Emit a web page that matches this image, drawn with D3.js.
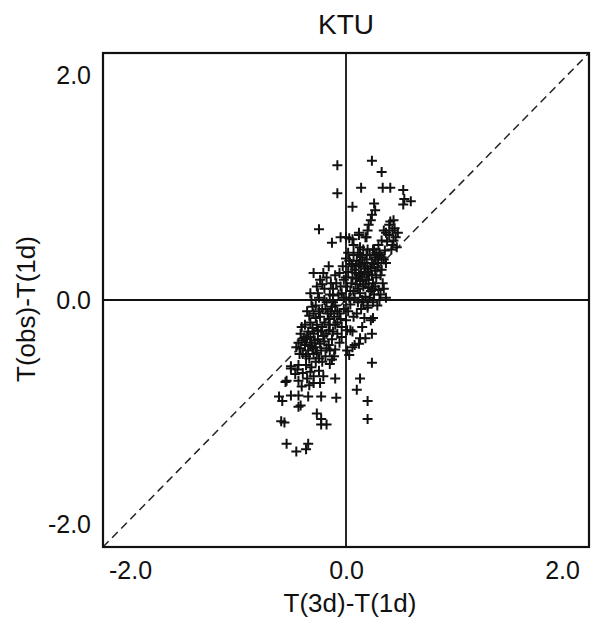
<!DOCTYPE html>
<html>
<head>
<meta charset="utf-8">
<script src="https://cdn.jsdelivr.net/npm/d3@7"></script>
<style>
  body { margin: 0; background: #fff; }
  text { font-family: "Liberation Sans", Arial, Helvetica, sans-serif; fill: #111; }
</style>
</head>
<body>
<script>
// chart size and frame
var width = 591;
var height = 632;
var plotLeft = 103, plotRight = 589, plotTop = 53, plotBottom = 547;

var title = 'KTU';
var xLabel = 'T(3d)-T(1d)';
var yLabel = 'T(obs)-T(1d)';
var xTicks = [-2, 0, 2];
var yTicks = [-2, 0, 2];

// [T(3d)-T(1d), T(obs)-T(1d)]
var upperPoints = [
  [-0.08, 1.20], [0.24, 1.24], [0.33, 1.14], [-0.08, 0.95], [0.14, 1.00],
  [0.34, 1.00], [0.41, 1.00], [0.53, 0.98], [0.54, 0.90], [0.60, 0.88],
  [0.53, 0.85], [0.06, 0.83], [0.26, 0.86], [0.27, 0.80], [0.24, 0.76],
  [0.23, 0.71], [0.21, 0.67], [0.20, 0.62], [-0.25, 0.63], [-0.13, 0.51],
  [-0.05, 0.56], [0.00, 0.56], [0.06, 0.54], [0.12, 0.58], [0.19, 0.56],
  [0.44, 0.71], [0.40, 0.67], [0.43, 0.62], [0.37, 0.60], [0.46, 0.56],
  [0.33, 0.53], [0.43, 0.49], [0.47, 0.47], [0.30, 0.49], [0.26, 0.45],
  [0.12, 0.60], [0.18, 0.56], [0.03, 0.55], [0.07, 0.49], [0.13, 0.47],
  [0.20, 0.45], [0.40, 0.58], [0.45, 0.64], [0.38, 0.52], [0.42, 0.45],
  [0.35, 0.62], [0.48, 0.60], [0.41, 0.70], [0.36, 0.44], [0.31, 0.40],
  [0.44, 0.53]
];

var rightLobe = [
  [0.00, 0.37], [-0.03, 0.30], [0.02, 0.25], [-0.02, 0.18], [0.01, 0.12],
  [-0.04, 0.06], [0.03, 0.02], [0.05, 0.32], [0.08, 0.27], [0.10, 0.35],
  [0.06, 0.20], [0.09, 0.14], [0.12, 0.22], [0.14, 0.30], [0.15, 0.38],
  [0.17, 0.25], [0.19, 0.18], [0.16, 0.12], [0.20, 0.30], [0.22, 0.40],
  [0.24, 0.33], [0.21, 0.23], [0.25, 0.15], [0.27, 0.26], [0.29, 0.36],
  [0.31, 0.42], [0.28, 0.20], [0.30, 0.09], [0.33, 0.27], [0.37, 0.33],
  [0.37, 0.02], [0.34, 0.15], [0.32, 0.05], [0.26, 0.05], [0.23, 0.08],
  [0.18, 0.03], [0.13, 0.06], [0.11, -0.02], [0.07, 0.08], [0.04, -0.04],
  [0.16, 0.45], [0.11, 0.42], [0.07, 0.40], [0.25, 0.45], [0.19, 0.36],
  [0.13, 0.17], [0.21, 0.11], [0.27, 0.38], [0.35, 0.36], [0.29, 0.29],
  [0.24, 0.22], [0.18, 0.28], [0.14, 0.24], [0.10, 0.19], [0.05, 0.15],
  [0.02, 0.42], [-0.06, 0.24], [-0.05, 0.12], [0.20, -0.05], [0.25, -0.02],
  [0.29, -0.05], [0.31, 0.00],
  [0.17, -0.16], [0.25, -0.16], [0.20, -0.07], [0.23, -0.18], [0.24, -0.30],
  [0.18, -0.34], [0.12, -0.39], [0.06, -0.42], [0.01, -0.45], [0.03, -0.49],
  [0.13, -0.34], [0.08, -0.40], [0.04, -0.27], [0.01, -0.27], [0.06, -0.28],
  [-0.04, -0.33], [0.15, -0.24], [0.10, -0.12], [0.14, -0.08], [0.07, -0.15],
  [0.03, 0.35], [0.06, 0.30], [0.09, 0.24], [0.12, 0.32], [0.15, 0.20],
  [0.18, 0.14], [0.21, 0.18], [0.23, 0.28], [0.26, 0.32], [0.28, 0.42],
  [0.30, 0.33], [0.32, 0.22], [0.35, 0.10], [0.33, 0.38], [0.17, 0.33],
  [0.13, 0.40], [0.09, 0.30], [0.04, 0.08], [0.08, 0.02], [0.15, 0.00],
  [0.22, 0.02], [0.27, 0.12], [0.20, 0.25], [0.11, 0.10], [0.00, 0.20],
  [-0.02, 0.02], [0.02, -0.10], [0.16, -0.02], [0.19, 0.40], [0.24, 0.10]
];

var leftLobe = [
  [-0.09, 0.15], [-0.07, 0.05], [-0.10, -0.05], [-0.06, -0.12], [-0.08, -0.20],
  [-0.02, -0.08], [-0.12, 0.10], [0.00, -0.18], [-0.04, -0.24],
  [-0.16, 0.30], [-0.30, 0.24], [-0.24, 0.18], [-0.33, 0.06], [-0.36, -0.10],
  [-0.41, -0.24], [-0.39, -0.34], [-0.20, 0.10], [-0.15, 0.05], [-0.25, 0.02],
  [-0.18, -0.02], [-0.22, -0.08], [-0.13, -0.06], [-0.28, -0.05], [-0.30, -0.12],
  [-0.17, -0.12], [-0.24, -0.15], [-0.11, -0.15], [-0.20, -0.20], [-0.27, -0.22],
  [-0.15, -0.22], [-0.33, -0.20], [-0.23, -0.28], [-0.18, -0.30], [-0.30, -0.30],
  [-0.35, -0.28], [-0.12, -0.28], [-0.26, -0.35], [-0.20, -0.37], [-0.32, -0.38],
  [-0.38, -0.40], [-0.42, -0.43], [-0.35, -0.45], [-0.28, -0.42], [-0.23, -0.45],
  [-0.16, -0.40], [-0.13, -0.35], [-0.44, -0.38], [-0.40, -0.48], [-0.30, -0.48],
  [-0.19, -0.50], [-0.25, -0.52], [-0.34, -0.52], [-0.10, -0.44], [-0.08, -0.30],
  [-0.14, 0.15], [-0.10, 0.22], [-0.21, 0.24], [-0.27, 0.12], [-0.12, -0.02],
  [-0.32, 0.00], [-0.06, -0.38], [-0.20, 0.00], [-0.25, -0.10], [-0.16, -0.17],
  [-0.22, -0.24], [-0.28, -0.16], [-0.33, -0.33], [-0.37, -0.35], [-0.15, -0.45],
  [-0.11, -0.50],
  [-0.42, -0.30], [-0.38, -0.22], [-0.34, -0.14], [-0.31, -0.06], [-0.26, 0.06],
  [-0.22, 0.14], [-0.18, 0.20], [-0.12, 0.04], [-0.08, -0.10], [-0.14, -0.10],
  [-0.19, -0.08], [-0.26, -0.27], [-0.31, -0.25], [-0.36, -0.33], [-0.41, -0.36],
  [-0.46, -0.42], [-0.43, -0.48], [-0.37, -0.50], [-0.31, -0.43], [-0.24, -0.39],
  [-0.18, -0.43], [-0.21, -0.32], [-0.16, -0.27], [-0.10, -0.22], [-0.05, -0.17],
  [-0.27, -0.47], [-0.33, -0.41], [-0.22, -0.55], [-0.15, -0.57], [-0.29, -0.36]
];

var lowerPoints = [
  [-0.51, -0.59], [-0.44, -0.58], [-0.37, -0.58], [-0.13, -0.53], [-0.25, -0.63],
  [-0.21, -0.68], [-0.10, -0.70], [-0.55, -0.72], [-0.44, -0.72], [-0.41, -0.77],
  [-0.34, -0.76], [0.13, -0.70], [0.10, -0.80], [0.20, -0.90], [0.20, -1.06],
  [0.24, -0.56], [-0.62, -0.86], [-0.59, -0.90], [-0.51, -0.85], [-0.44, -0.85],
  [-0.35, -0.86], [-0.23, -0.86], [-0.09, -0.87], [-0.42, -0.94], [-0.44, -0.95],
  [-0.27, -1.01], [-0.23, -1.06], [-0.60, -1.08], [-0.57, -1.09], [-0.23, -1.11],
  [-0.18, -1.11], [-0.55, -1.28], [-0.46, -1.35], [-0.35, -1.28], [-0.37, -1.33],
  [-0.56, -0.73], [-0.51, -0.61], [-0.45, -0.62], [-0.40, -0.65], [-0.32, -0.60],
  [-0.30, -0.68], [-0.28, -0.55], [-0.36, -0.70], [-0.47, -0.66], [-0.24, -0.74],
  [-0.33, -0.64], [-0.30, -0.74]
];

var points = upperPoints.concat(rightLobe, leftLobe, lowerPoints);

var svg = d3.select('body').append('svg')
  .attr('width', width)
  .attr('height', height);

var x = d3.scaleLinear().domain([-2.25, 2.25]).range([plotLeft, plotRight]);
var y = d3.scaleLinear().domain([-2.2, 2.2]).range([plotBottom, plotTop]);

// zero lines
svg.append('line')
  .attr('x1', x(0)).attr('x2', x(0))
  .attr('y1', plotTop).attr('y2', plotBottom)
  .attr('stroke', '#111').attr('stroke-width', 1.8);
svg.append('line')
  .attr('x1', plotLeft).attr('x2', plotRight)
  .attr('y1', y(0)).attr('y2', y(0))
  .attr('stroke', '#111').attr('stroke-width', 1.8);

// dashed diagonal corner to corner
svg.append('line')
  .attr('x1', x(x.domain()[0])).attr('y1', y(y.domain()[0]))
  .attr('x2', x(x.domain()[1])).attr('y2', y(y.domain()[1]))
  .attr('stroke', '#222')
  .attr('stroke-width', 1.5)
  .attr('stroke-dasharray', '8,5');

// crosses
var arm = 5;
svg.append('g').selectAll('path')
  .data(points)
  .enter().append('path')
  .attr('d', function(d) {
    var cx = x(d[0]), cy = y(d[1]);
    return 'M' + (cx - arm) + ',' + cy + 'H' + (cx + arm) +
      'M' + cx + ',' + (cy - arm) + 'V' + (cy + arm);
  })
  .attr('stroke', '#111')
  .attr('stroke-width', 2)
  .attr('fill', 'none');

// frame
svg.append('rect')
  .attr('x', plotLeft).attr('y', plotTop)
  .attr('width', plotRight - plotLeft).attr('height', plotBottom - plotTop)
  .attr('fill', 'none')
  .attr('stroke', '#111')
  .attr('stroke-width', 2.2);

var fmt = function(d) { return d.toFixed(1); };

// axes (labels only)
svg.append('g')
  .attr('transform', 'translate(0,' + plotBottom + ')')
  .call(d3.axisBottom(x).tickValues(xTicks).tickSize(0).tickPadding(14).tickFormat(fmt));
svg.append('g')
  .attr('transform', 'translate(' + plotLeft + ',0)')
  .call(d3.axisLeft(y).tickValues(yTicks).tickSize(0).tickPadding(12).tickFormat(fmt));
svg.selectAll('.domain').remove();
svg.selectAll('.tick text')
  .style('font-family', '"Liberation Sans", Arial, sans-serif')
  .style('font-size', '25px')
  .attr('fill', '#111');

svg.append('text')
  .attr('x', 346).attr('y', 34)
  .attr('text-anchor', 'middle')
  .style('font-size', '28px')
  .text(title);

svg.append('text')
  .attr('x', 350).attr('y', 612)
  .attr('text-anchor', 'middle')
  .style('font-size', '26px')
  .text(xLabel);

svg.append('text')
  .attr('transform', 'translate(35,' + 309 + ') rotate(-90)')
  .attr('text-anchor', 'middle')
  .style('font-size', '26px')
  .text(yLabel);
</script>
</body>
</html>
